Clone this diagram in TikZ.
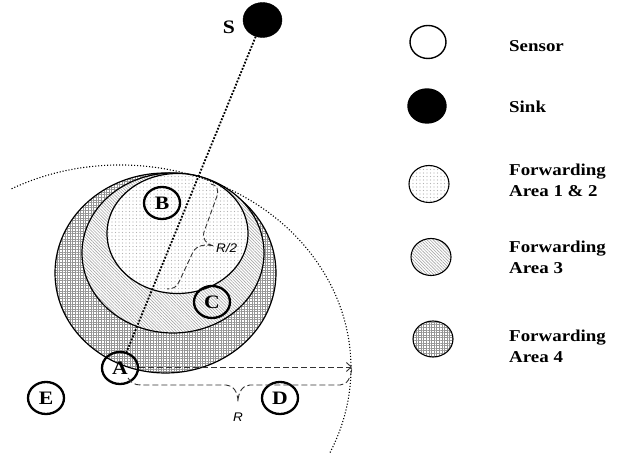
\documentclass[tikz,border=0pt]{standalone}
\usepackage{fontspec}
\setmainfont{Liberation Serif}
\newfontfamily\lgf[FakeStretch=1.14]{Liberation Serif}
\newfontfamily\lblf[FakeStretch=1.08]{Liberation Sans}
\usetikzlibrary{shapes.geometric,patterns.meta,arrows.meta}
\begin{document}
\begin{tikzpicture}[x=1pt,y=1pt,
  sensor/.style={draw, line width=2.3pt, ellipse, minimum width=36pt, minimum height=32pt, inner sep=0pt, font=\lgf\bfseries\fontsize{19}{19}\selectfont},
  legsens/.style={draw, line width=1.4pt, ellipse, minimum width=36pt, minimum height=33pt, inner sep=0pt},
  legarea/.style={draw, line width=1.1pt, ellipse, minimum width=40pt, minimum height=37pt, inner sep=0pt},
  arealine/.style={draw, line width=1.2pt},
  pone/.style={preaction={fill=white}, pattern={Dots[distance=3.5pt, radius=0.6pt]}, pattern color=black!30},
  pthree/.style={preaction={fill=white}, pattern={Lines[angle=-45, distance=2.2pt, line width=0.6pt]}, pattern color=black!35},
  pfour/.style={preaction={fill=white}, pattern={Hatch[angle=0, distance=2.6pt, line width=0.7pt]}, pattern color=black!42},
  lgtext/.style={font=\lgf\bfseries\fontsize{16.6}{21.5}\selectfont, inner sep=0pt, align=left},
  dimtext/.style={font=\lblf\itshape\fontsize{12.5}{12.5}\selectfont, inner sep=0pt},
  sinkline/.style={line width=1.8pt, dash pattern=on 1.8pt off 1.6pt},
  rangeline/.style={line width=1.1pt, dash pattern=on 1.1pt off 1.9pt},
  dimline/.style={line width=0.9pt, black!80, dash pattern=on 6pt off 3pt}
]
\useasboundingbox (0,0) rectangle (619,460);

% forwarding areas
\path[arealine, pfour] (165.5,187) ellipse[x radius=110.5, y radius=100];
\path[arealine, pthree] (173,207) ellipse[x radius=91, y radius=80];
\path[arealine, pone] (177.5,226.5) ellipse[x radius=70.5, y radius=60];

% nodes
\node[draw, fill=black, ellipse, minimum width=39pt, minimum height=35pt, inner sep=0pt] (S) at (262.5,440) {};
\node[font=\lgf\bfseries\fontsize{19}{19}\selectfont, inner sep=0pt] (Slab) at (229,433) {S};
\node[sensor] (A) at (120,92) {A};
\node[sensor] (B) at (162,257) {B};
\node[sensor] (C) at (212,158) {C};
\node[sensor] (D) at (280,62) {D};
\node[sensor] (E) at (46,62) {E};

% sink line
\draw[sinkline] (S) -- (A);

% range arc
\draw[rangeline] (A.center) ++(118:231 and 203) arc[start angle=118, end angle=-25, x radius=231, y radius=203];

% range arrow
\coordinate (Rend) at ([xshift=232pt,yshift=1pt]A.center);
\draw[dimline, -{Straight Barb[length=5pt, width=9pt]}] ([yshift=1pt]A.east) -- (Rend);

% R brace
\draw[dimline] (128,82) .. controls (131,77) and (135,75) .. (141,75) -- (226,75)
  .. controls (233,75) and (238,68) .. (238,58)
  .. controls (238,68) and (243,75) .. (250,75) -- (340,75)
  .. controls (347,75) and (351,82) .. (Rend);
\node[dimtext] (Rlab) at (238,43) {R};

% R/2 brace
\draw[dimline, dash pattern=on 5pt off 2.5pt] (211,276) .. controls (217,275) and (219,270) .. (217,264) -- (204,228)
  .. controls (202,221) and (206,216) .. (214,214)
  .. controls (205,216) and (197,215) .. (193,208) -- (179,178)
  .. controls (177,173) and (173,171) .. (167,171);
\node[dimtext, anchor=west] (R2lab) at (216,212) {R/2};

% legend
\node[legsens] (L1) at (428,418) {};
\node[legsens, fill=black, minimum width=38pt, minimum height=34pt] (L2) at (427,354) {};
\node[legarea, pone] (L3) at (429,276) {};
\node[legarea, pthree] (L4) at (431,203) {};
\node[legarea, pfour, minimum height=36pt] (L5) at (433,121) {};

\node[lgtext, anchor=base west] (T1) at (509,408) {Sensor};
\node[lgtext, anchor=base west] (T2) at (509,347) {Sink};
\node[lgtext, anchor=base west] (T3) at (509,263) {Forwarding\\Area 1 \& 2};
\node[lgtext, anchor=base west] (T4) at (509,186) {Forwarding\\Area 3};
\node[lgtext, anchor=base west] (T5) at (509,97) {Forwarding\\Area 4};
\end{tikzpicture}
\end{document}
